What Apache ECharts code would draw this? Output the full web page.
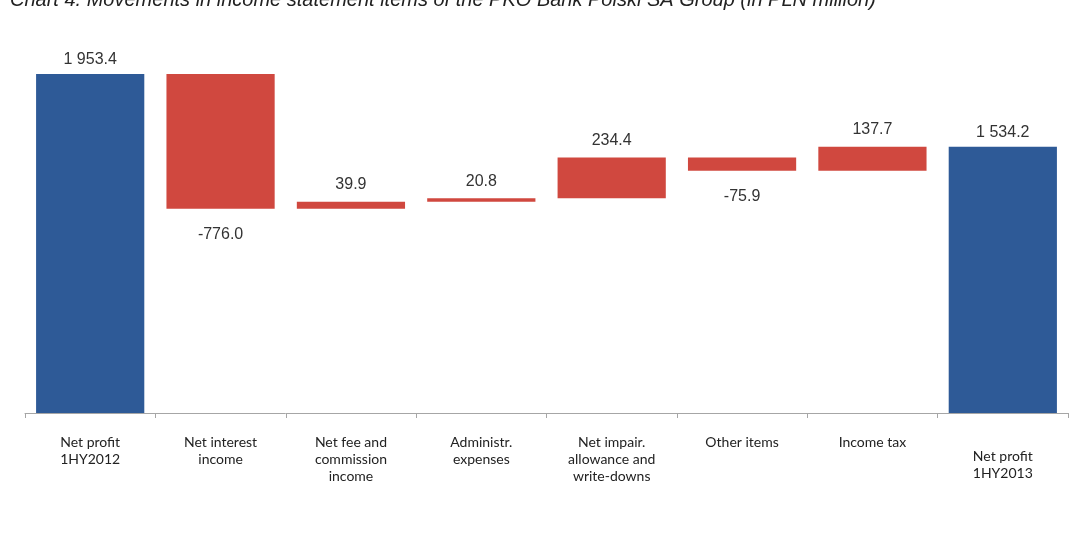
<!DOCTYPE html>
<html><head><meta charset="utf-8">
<script src="https://cdn.jsdelivr.net/npm/echarts@6/dist/echarts.min.js"></script>
<style>html,body{margin:0;padding:0;background:#fff}#c{width:1074px;height:540px}</style>
</head><body><div id="c"></div>
<script>
const titleText = 'Chart 4. Movements in income statement items of the PKO Bank Polski SA Group (in PLN million)';
const categories = ['Net profit\n1HY2012', 'Net interest\nincome', 'Net fee and\ncommission\nincome', 'Administr.\nexpenses', 'Net impair.\nallowance and\nwrite-downs', 'Other items', 'Income tax', 'Net profit\n1HY2013'];
// first and last are totals, others are changes
const values = [1953.4, -776.0, 39.9, 20.8, 234.4, -75.9, 137.7, 1534.2];
const isTotal = [true, false, false, false, false, false, false, true];

function fmt(v) {
  const s = Math.abs(v).toFixed(1);
  const [i, d] = s.split('.');
  const ii = i.replace(/\B(?=(\d{3})+(?!\d))/g, ' ');
  return (v < 0 ? '-' : '') + ii + '.' + d;
}

const BLUE = '#2e5a97', RED = '#d0483f';
const baseData = [], barData = [];
let running = 0;
values.forEach((v, i) => {
  if (isTotal[i]) {
    baseData.push(0);
    barData.push({ value: v, raw: v, itemStyle: { color: BLUE }, label: { position: 'top', distance: 6 } });
    running = v;
  } else {
    const next = running + v;
    baseData.push(Math.min(running, next));
    barData.push({ value: Math.abs(v), raw: v, itemStyle: { color: RED },
      label: v < 0 ? { position: 'bottom', distance: 18 } : { position: 'top', distance: 9 } });
    running = next;
  }
});

const xData = categories.map((c, i) => i === categories.length - 1 ? { value: c, textStyle: { padding: [14, 0, 0, 0] } } : c);

const chart = echarts.init(document.getElementById('c'), null, { renderer: 'canvas' });
chart.setOption({
  animation: false,
  backgroundColor: '#fff',
  graphic: [{
    type: 'text', left: 10, top: -10,
    style: { text: titleText, font: 'italic 20px "Liberation Sans", Arial, sans-serif', fill: '#222' }
  }],
  grid: { left: 25, right: 6, top: 66, bottom: 127 },
  xAxis: {
    type: 'category', data: xData,
    axisLine: { lineStyle: { color: '#a6a6a6', width: 1 } },
    axisTick: { show: true, length: 5, lineStyle: { color: '#a6a6a6' } },
    axisLabel: { interval: 0, margin: 21, color: '#222', fontSize: 14, lineHeight: 17,
      fontFamily: 'Lato, "Noto Sans", sans-serif' }
  },
  yAxis: { type: 'value', min: 0, max: 2000, show: false, splitLine: { show: false } },
  series: [
    { type: 'bar', stack: 'w', data: baseData, itemStyle: { color: 'transparent' }, barWidth: '83%', silent: true },
    { type: 'bar', stack: 'w', data: barData, barWidth: '83%',
      label: { show: true, color: '#333', fontSize: 16, fontFamily: '"Liberation Sans", Arial, sans-serif',
        formatter: p => fmt(p.data.raw) } }
  ]
});
</script></body></html>
